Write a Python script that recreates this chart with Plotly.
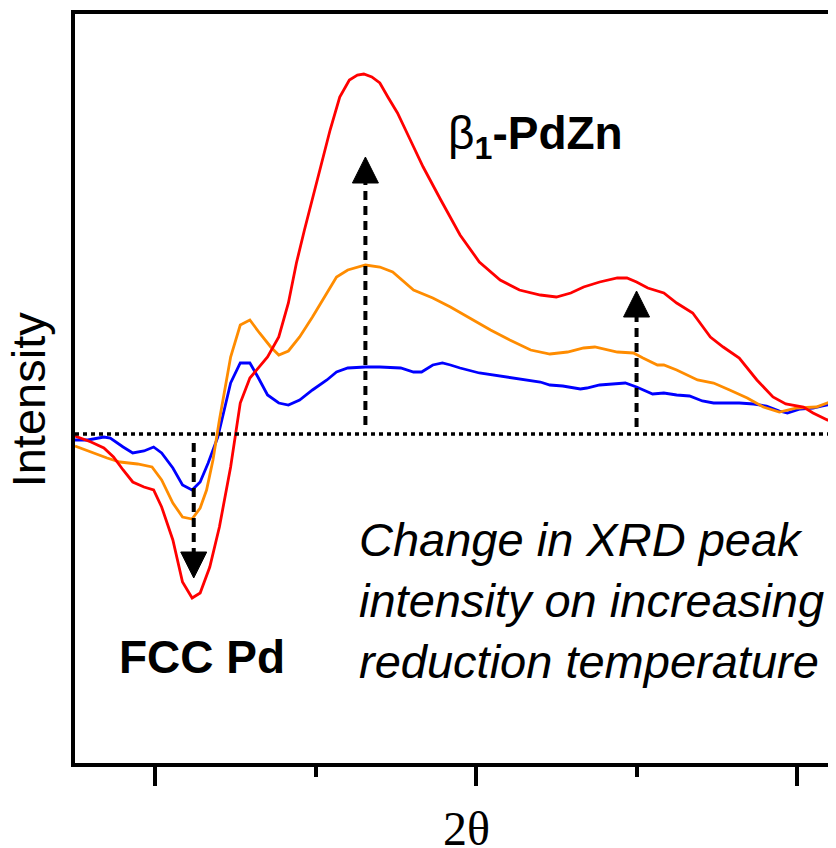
import plotly.graph_objects as go

# ---- data (2θ in degrees, intensity in arbitrary units, difference patterns) ----
red_x = [39.50, 39.60, 39.68, 39.74, 39.80, 39.86, 39.93, 39.99, 40.04, 40.11, 40.17, 40.23,
         40.28, 40.34, 40.40, 40.47, 40.53, 40.59, 40.70, 40.77, 40.83, 40.88, 40.93, 41.02,
         41.09, 41.15, 41.21, 41.26, 41.30, 41.35, 41.40, 41.45, 41.51, 41.59, 41.67, 41.78,
         41.90, 42.02, 42.15, 42.27, 42.40, 42.50, 42.59, 42.67, 42.77, 42.88, 42.94, 43.00,
         43.07, 43.17, 43.25, 43.35, 43.46, 43.54, 43.64, 43.75, 43.85, 43.93, 44.04, 44.10,
         44.19, 44.24]
red_y = [-0.02, -0.08, -0.14, -0.23, -0.36, -0.48, -0.53, -0.56, -0.73, -1.06, -1.48, -1.64,
         -1.59, -1.33, -0.93, -0.33, 0.31, 0.56, 0.77, 0.97, 1.31, 1.71, 2.04, 2.59,
         3.04, 3.37, 3.54, 3.59, 3.60, 3.57, 3.51, 3.37, 3.21, 2.94, 2.67, 2.34,
         1.99, 1.72, 1.54, 1.44, 1.39, 1.37, 1.41, 1.47, 1.52, 1.56, 1.56, 1.52,
         1.46, 1.41, 1.31, 1.21, 0.97, 0.87, 0.76, 0.54, 0.37, 0.30, 0.27, 0.21,
         0.14, 0.14]

orange_x = [39.50, 39.60, 39.70, 39.78, 39.89, 39.98, 40.04, 40.11, 40.17, 40.23, 40.28, 40.32,
            40.36, 40.40, 40.47, 40.53, 40.59, 40.65, 40.72, 40.77, 40.83, 40.90, 40.98, 41.07,
            41.13, 41.20, 41.31, 41.40, 41.48, 41.61, 41.73, 41.84, 41.96, 42.09, 42.21, 42.34,
            42.46, 42.57, 42.67, 42.74, 42.88, 42.98, 43.04, 43.13, 43.17, 43.25, 43.38, 43.48,
            43.58, 43.69, 43.79, 43.89, 44.00, 44.12, 44.24]
orange_y = [-0.12, -0.18, -0.24, -0.28, -0.30, -0.33, -0.46, -0.69, -0.83, -0.85, -0.74, -0.56,
            -0.26, 0.14, 0.77, 1.09, 1.14, 1.01, 0.87, 0.79, 0.83, 0.97, 1.17, 1.41,
            1.57, 1.64, 1.69, 1.67, 1.62, 1.44, 1.36, 1.27, 1.16, 1.04, 0.94, 0.84,
            0.80, 0.82, 0.86, 0.87, 0.82, 0.81, 0.76, 0.69, 0.69, 0.64, 0.54, 0.51,
            0.44, 0.36, 0.27, 0.22, 0.26, 0.27, 0.34]

blue_x = [39.50, 39.58, 39.68, 39.72, 39.80, 39.86, 39.93, 39.99, 40.04, 40.11, 40.17, 40.23,
          40.28, 40.33, 40.39, 40.42, 40.47, 40.53, 40.59, 40.64, 40.70, 40.77, 40.83, 40.90,
          40.98, 41.07, 41.13, 41.20, 41.31, 41.40, 41.53, 41.61, 41.66, 41.73, 41.79, 41.84,
          41.90, 42.02, 42.15, 42.27, 42.40, 42.46, 42.54, 42.65, 42.69, 42.77, 42.88, 42.93,
          43.00, 43.10, 43.17, 43.25, 43.33, 43.41, 43.48, 43.58, 43.64, 43.73, 43.81, 43.89,
          43.94, 44.02, 44.10, 44.16, 44.24]
blue_y = [-0.06, -0.06, -0.03, -0.04, -0.13, -0.19, -0.17, -0.13, -0.19, -0.34, -0.51, -0.56,
          -0.48, -0.29, -0.03, 0.17, 0.51, 0.71, 0.71, 0.57, 0.39, 0.31, 0.29, 0.34,
          0.44, 0.54, 0.62, 0.66, 0.67, 0.67, 0.66, 0.62, 0.62, 0.69, 0.71, 0.69,
          0.66, 0.61, 0.58, 0.55, 0.52, 0.49, 0.48, 0.45, 0.46, 0.49, 0.50, 0.51,
          0.47, 0.40, 0.41, 0.39, 0.38, 0.33, 0.31, 0.31, 0.31, 0.30, 0.28, 0.23,
          0.21, 0.25, 0.26, 0.28, 0.31]

# arrows: x position, start (baseline side), end (arrow tip)
arrow_x = [40.24, 41.31, 43.00]
arrow_start = [-0.09, 0.09, 0.07]
arrow_tip = [-1.44, 2.77, 1.43]

x_range = [39.50, 44.243]
y_range = [-3.29, 4.20]

fig = go.Figure()

for xs, ys, col in [(blue_x, blue_y, "#0000FF"),
                    (orange_x, orange_y, "#FF8C00"),
                    (red_x, red_y, "#FF0000")]:
    fig.add_trace(go.Scatter(x=xs, y=ys, mode="lines",
                             line=dict(color=col, width=2.8), showlegend=False,
                             hoverinfo="skip"))

# dotted baseline
fig.add_shape(type="line", xref="paper", x0=0, x1=1, yref="y", y0=0, y1=0,
              line=dict(color="black", width=3.5, dash="4px,4px"))

for ax_, y0, yt in zip(arrow_x, arrow_start, arrow_tip):
    up = yt > y0
    ybase = yt - 0.24 if up else yt + 0.24
    fig.add_trace(go.Scatter(x=[ax_, ax_], y=[y0, ybase], mode="lines",
                             line=dict(color="black", width=4, dash="9px,6px"),
                             showlegend=False, hoverinfo="skip"))
    if up:
        path = "M-13,-26 L13,-26 L0,0 Z"
    else:
        path = "M-13,26 L13,26 L0,0 Z"
    fig.add_shape(type="path", xref="x", yref="y", xsizemode="pixel", ysizemode="pixel",
                  xanchor=ax_, yanchor=yt, path=path,
                  fillcolor="black", line=dict(color="black", width=1))

ann_font = "Liberation Sans, Arial, sans-serif"
fig.add_annotation(x=41.81, y=2.98, xref="x", yref="y", xanchor="left", yanchor="middle",
                   text="β<sub><b>1</b></sub><b>-PdZn</b>", showarrow=False,
                   font=dict(family=ann_font, size=46, color="black"))
fig.add_annotation(x=40.29, y=-2.23, xref="x", yref="y", xanchor="center", yanchor="middle",
                   text="<b>FCC Pd</b>", showarrow=False,
                   font=dict(family=ann_font, size=46, color="black"))
fig.add_annotation(x=41.26, y=-1.66, xref="x", yref="y", xanchor="left", yanchor="middle",
                   align="left",
                   text="<i>Change in XRD peak<br>intensity on increasing<br>reduction temperature</i>",
                   showarrow=False, font=dict(family=ann_font, size=47, color="black"))
fig.add_annotation(x=-0.06, y=0.486, xref="paper", yref="paper", xanchor="center",
                   yanchor="middle", text="Intensity", textangle=-90, showarrow=False,
                   font=dict(family=ann_font, size=47, color="black"))
fig.add_annotation(x=0.515, y=-0.087, xref="paper", yref="paper", xanchor="center",
                   yanchor="middle", text="2θ", showarrow=False,
                   font=dict(family="Liberation Serif, Times New Roman, serif", size=48,
                             color="black"))

# page body has an 8px margin, so the figure is sized/offset to compensate
fig.update_layout(
    width=828, height=840,
    margin=dict(l=67, r=0, t=6, b=85),
    paper_bgcolor="white", plot_bgcolor="white",
    xaxis=dict(range=x_range, showgrid=False, zeroline=False, showline=True,
               linecolor="black", linewidth=4, mirror=True,
               ticks="outside", ticklen=19, tickwidth=4, tickcolor="black",
               tick0=40, dtick=2, showticklabels=False,
               minor=dict(ticks="outside", ticklen=10, tickwidth=4, tickcolor="black",
                          tick0=41, dtick=2)),
    yaxis=dict(range=y_range, showgrid=False, zeroline=False, showline=True,
               linecolor="black", linewidth=4, mirror=False,
               ticks="", showticklabels=False),
)

fig.write_html("out.html")
